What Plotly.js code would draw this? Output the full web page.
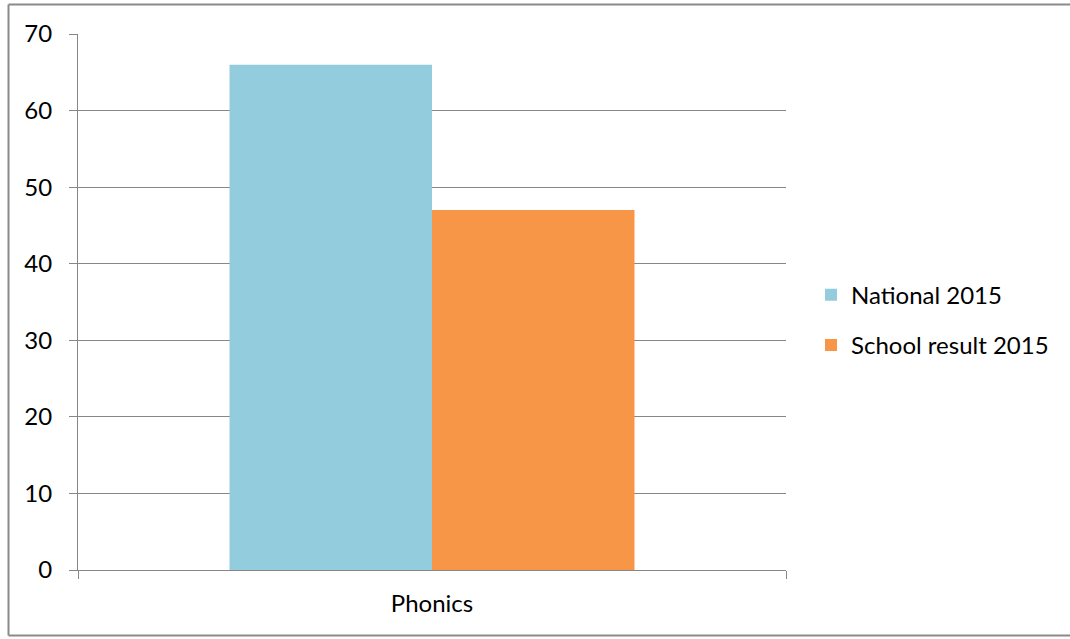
<!DOCTYPE html>
<html>
<head>
<meta charset="utf-8">
<script src="https://cdn.plot.ly/plotly-3.0.1.min.js"></script>
<style>html,body{margin:0;padding:0;background:#fff;overflow:hidden;}#chart{width:1070px;height:639px;}</style>
</head>
<body>
<div id="chart"></div>
<script>
var categories = ['Phonics'];
var seriesNames = ['National 2015', 'School result 2015'];
var national2015 = [66];
var schoolResult2015 = [47];
var yTickValues = [0, 10, 20, 30, 40, 50, 60, 70];

var FONT = 'Lato, "Open Sans", "Liberation Sans", sans-serif';
var GRID = '#878787';

var traces = [
  {type: 'bar', x: categories, y: national2015, name: seriesNames[0],
   marker: {color: '#93CDDD'}, legendgroup: 'a', hoverinfo: 'skip'},
  {type: 'bar', x: categories, y: schoolResult2015, name: seriesNames[1],
   marker: {color: '#F79646'}, legendgroup: 'b', hoverinfo: 'skip'}
];

var bx0 = (8.5 - 78) / 708, bx1 = (1100 - 78) / 708;
var by0 = (570 - 635.5) / 536, by1 = (570 - 4.5) / 536;
var borderLine = {color: '#8a8a8a', width: 2};

var layout = {
  width: 1070, height: 639,
  margin: {l: 78, r: 284, t: 34, b: 69, pad: 0},
  paper_bgcolor: '#ffffff', plot_bgcolor: '#ffffff',
  font: {family: FONT, size: 24, color: '#000000'},
  barmode: 'group', bargap: 0.428, bargroupgap: 0,
  showlegend: true,
  legend: {x: (811 - 78) / 708, xanchor: 'left', y: 0.466, yanchor: 'middle',
           font: {family: FONT, size: 24, color: '#000'},
           tracegroupgap: 16, traceorder: 'grouped', bgcolor: 'rgba(0,0,0,0)'},
  xaxis: {showline: true, linecolor: GRID, linewidth: 1, ticks: 'outside', tickson: 'boundaries',
          ticklen: 8, tickcolor: GRID, tickwidth: 1, showgrid: false, zeroline: false,
          ticklabelstandoff: 12, tickfont: {family: FONT, size: 24}, fixedrange: true},
  yaxis: {range: [0, 70], tickvals: yTickValues, ticks: 'outside', ticklen: 8, tickcolor: GRID,
          tickwidth: 1, showgrid: true, gridcolor: GRID, gridwidth: 1, showline: true,
          linecolor: GRID, linewidth: 1, zeroline: false, ticklabelstandoff: 12,
          tickfont: {family: FONT, size: 24}, fixedrange: true},
  shapes: [
    {type: 'line', xref: 'paper', yref: 'paper', x0: bx0, x1: bx1, y0: by1, y1: by1, line: borderLine, layer: 'below'},
    {type: 'line', xref: 'paper', yref: 'paper', x0: bx0, x1: bx0, y0: by0, y1: by1, line: borderLine, layer: 'below'},
    {type: 'line', xref: 'paper', yref: 'paper', x0: bx0, x1: bx1, y0: by0, y1: by0, line: borderLine, layer: 'below'}
  ]
};

Plotly.newPlot('chart', traces, layout, {displayModeBar: false, staticPlot: true});
</script>
</body>
</html>
